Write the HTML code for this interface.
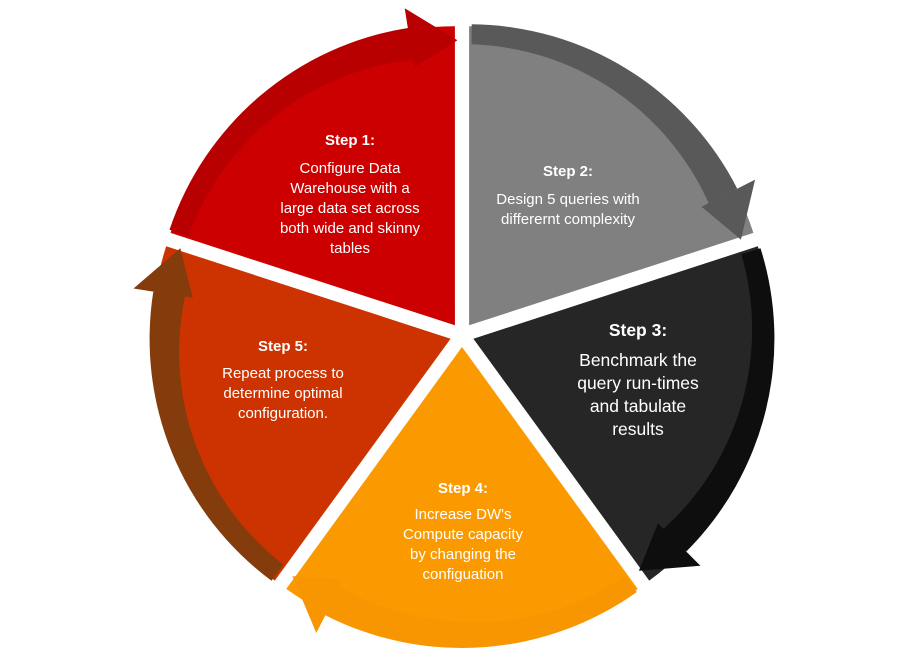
<!DOCTYPE html>
<html><head><meta charset="utf-8">
<style>
html,body{margin:0;padding:0;background:#fff;}
#w{position:relative;width:922px;height:669px;overflow:hidden;font-family:"Liberation Sans",Arial,sans-serif;color:#fff;}
svg{position:absolute;left:0;top:0;}
.t{position:absolute;text-align:center;white-space:nowrap;transform:translateX(-50%);font-size:15px;line-height:20px;}
.t b{display:block;margin-bottom:8px;}
</style></head><body>
<div id="w">
<svg id="s" width="922" height="669" viewBox="0 0 922 669"></svg>
<div class="t" style="left:350px;top:131px;"><b>Step 1:</b>Configure Data<br>Warehouse with a<br>large data set across<br>both wide and skinny<br>tables</div>
<div class="t" style="left:568px;top:162px;"><b>Step 2:</b>Design 5 queries with<br>differernt complexity</div>
<div class="t" style="left:638px;top:319px;font-size:17.5px;line-height:23px;"><b style="margin-bottom:7px">Step 3:</b>Benchmark the<br>query run-times<br>and tabulate<br>results</div>
<div class="t" style="left:463px;top:479px;"><b style="margin-bottom:6px">Step 4:</b>Increase DW's<br>Compute capacity<br>by changing the<br>configuation</div>
<div class="t" style="left:283px;top:337px;"><b style="margin-bottom:7px">Step 5:</b>Repeat process to<br>determine optimal<br>configuration.</div>
</div>
<script>
(function(){
var cx=462,cy=335,R=303,off=12;
var segs=[
 {a0:-72,a1:0,w:"#cc0000",b:"#b80000"},
 {a0:0,a1:72,w:"#808080",b:"#595959"},
 {a0:72,a1:144,w:"#262626",b:"#0e0e0e"},
 {a0:144,a1:216,w:"#fb9a00",b:"#f79600"},
 {a0:216,a1:288,w:"#cc3300",b:"#843c0c"}
];
function P(a,r,ox,oy){var t=a*Math.PI/180;return [(cx+ox+r*Math.sin(t)).toFixed(1),(cy+oy-r*Math.cos(t)).toFixed(1)];}
var s="";
segs.forEach(function(g){
 var m=(g.a0+g.a1)/2*Math.PI/180, ox=off*Math.sin(m), oy=-off*Math.cos(m);
 var rw=R-4;
 var p0=P(g.a0,rw,ox,oy),p1=P(g.a1,rw,ox,oy),c=P(0,0,ox,oy);
 s+='<path d="M'+c+' L'+p0+' A'+rw+' '+rw+' 0 0 1 '+p1+' Z" fill="'+g.w+'"/>';
 var ri=R-34, ro=R-2, ah=9;
 var ae=g.a1-ah;
 var q1=P(g.a0+0.5,ro,ox,oy),q2=P(ae,ro,ox,oy),q3=P(ae,ri,ox,oy),q4=P(g.a0+0.5,ri+12,ox,oy);
 s+='<path d="M'+q1+' A'+ro+' '+ro+' 0 0 1 '+q2+' L'+q3+' A'+ri+' '+ri+' 0 0 0 '+q4+' Z" fill="'+g.b+'"/>';
 var h1=P(ae,ro+20,ox,oy),h2=P(ae,ri-8,ox,oy),tip=P(g.a1+0.5,(ri+ro)/2,ox,oy);
 s+='<path d="M'+h1+' L'+tip+' L'+h2+' Z" fill="'+g.b+'"/>';
});
document.getElementById("s").innerHTML=s;
})();
</script>
</body></html>
